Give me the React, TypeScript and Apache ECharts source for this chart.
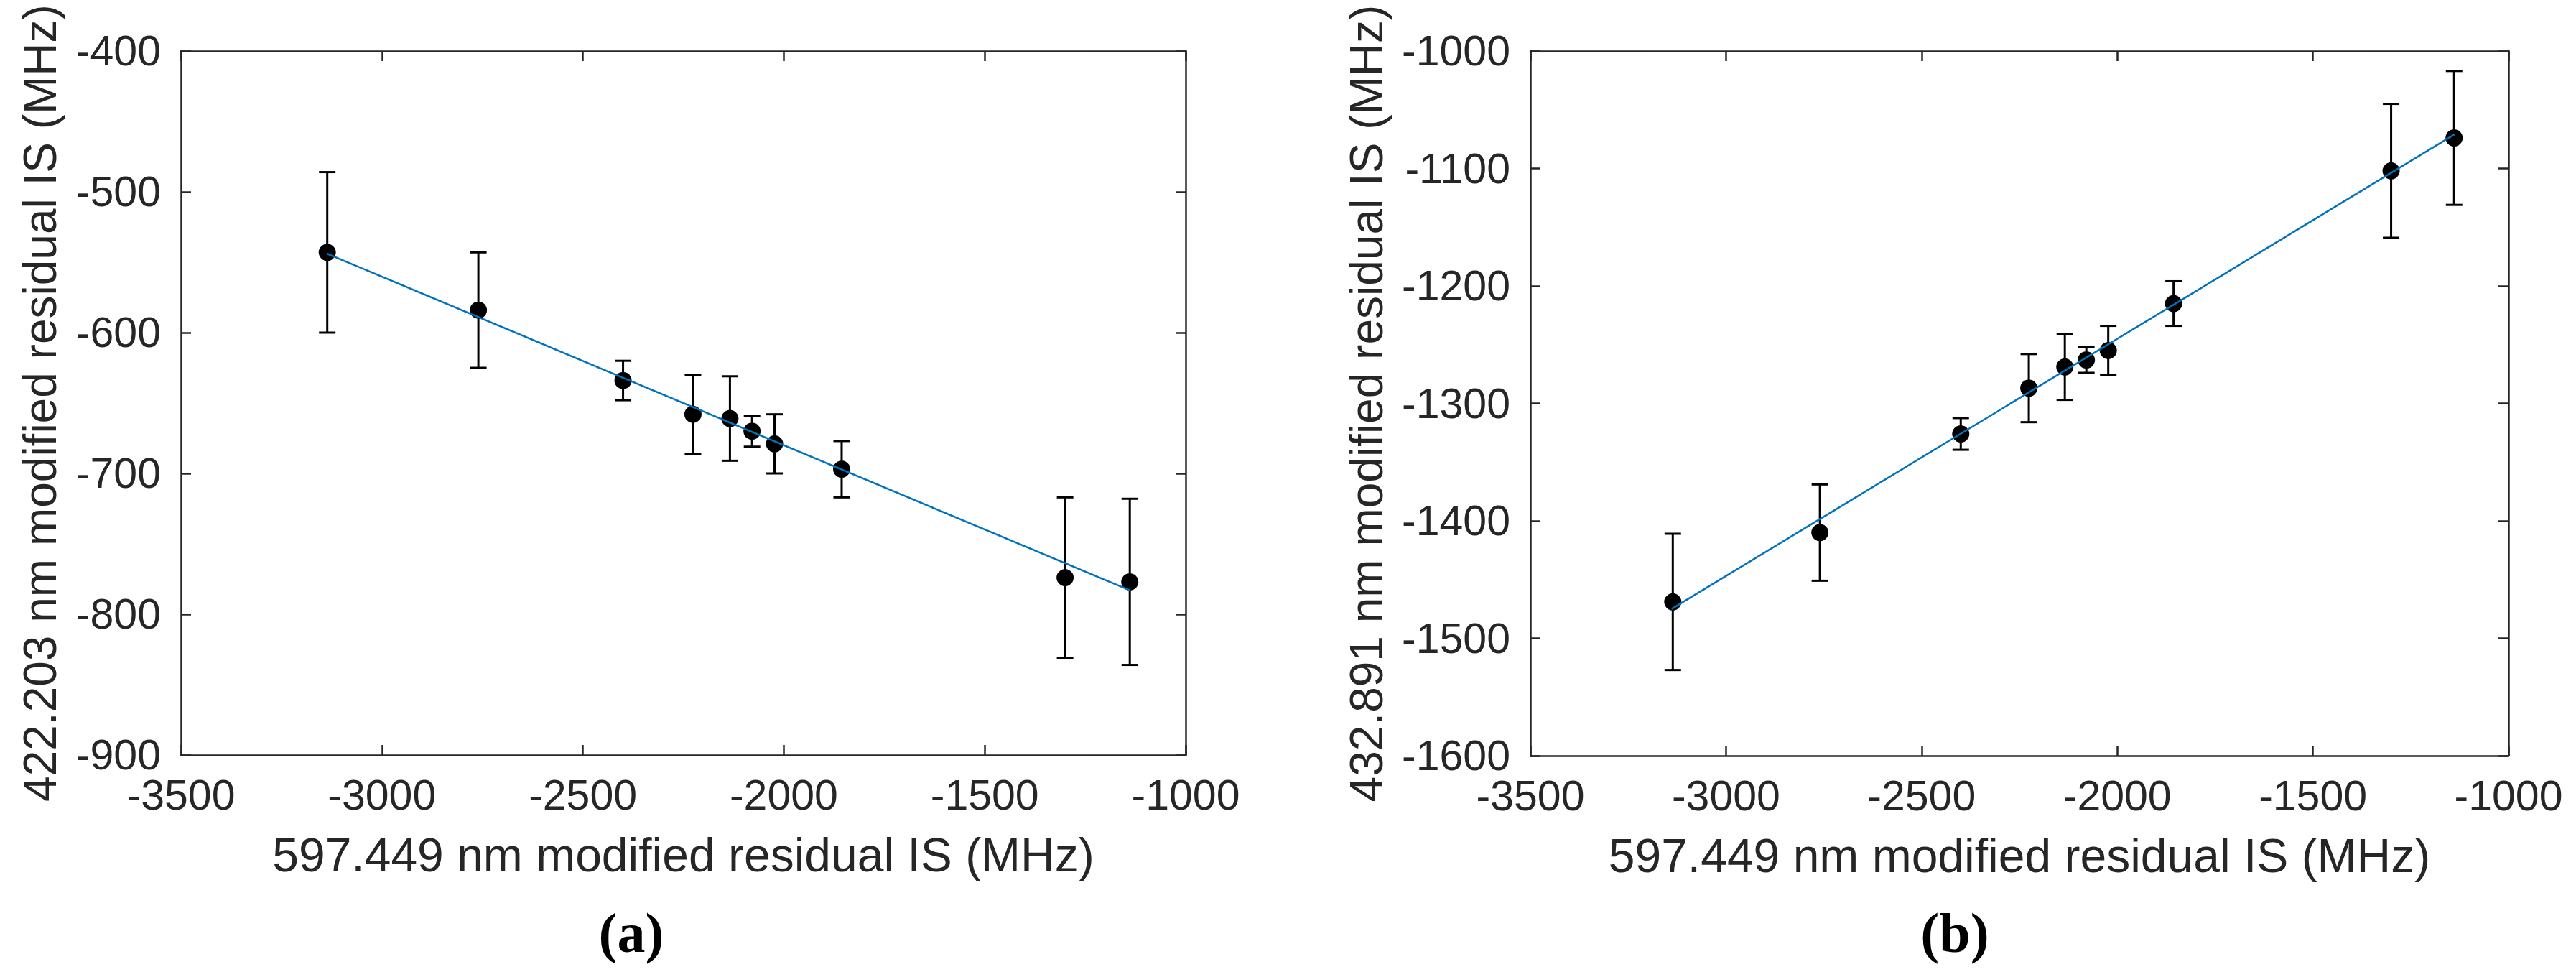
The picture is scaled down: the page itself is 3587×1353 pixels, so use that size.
import React, { useEffect, useRef } from "react";
import * as echarts from "echarts";

// Shared x values (597.449 nm modified residual IS, MHz)
const xVals = [-3136, -2760, -2400, -2226, -2134, -2079, -2023, -1856, -1300, -1139];

// Panel (a): 422.203 nm modified residual IS
const yA = [-543, -584, -634, -658, -661, -670, -679, -697, -774, -777];
const errA = [57, 41, 14, 28, 30, 11, 21, 20, 57, 59];
const fitA = [
  [-3136, -544],
  [-1139, -783],
];

// Panel (b): 432.891 nm modified residual IS
const yB = [-1469, -1410, -1326, -1287, -1269, -1263, -1255, -1215, -1102, -1074];
const errB = [58, 41, 13.5, 29, 28, 11, 21, 19, 57, 57];
const fitB = [
  [-3139, -1475],
  [-1138, -1071],
];

const xTitle = "597.449 nm modified residual IS (MHz)";
const yTitleA = "422.203 nm modified residual IS (MHz)";
const yTitleB = "432.891 nm modified residual IS (MHz)";
const panelLabels = ["(a)", "(b)"];

const AX = "#262626";
const SANS = "'Liberation Sans', Arial, sans-serif";

export default function App() {
  const ref = useRef<HTMLDivElement>(null);

  useEffect(() => {
    if (!ref.current) return;
    const chart = echarts.init(ref.current, undefined, { renderer: "svg" });

    const axisLine = { show: true, lineStyle: { color: AX, width: 2.5 } };
    const tick = { show: true, inside: true, length: 14, lineStyle: { color: AX, width: 2.5 } };
    const label = {
      color: AX,
      fontSize: 59,
      fontFamily: SANS,
      formatter: (v: number) => String(v),
    };

    const mkX = (gi: number) => [
      {
        gridIndex: gi,
        type: "value",
        min: -3500,
        max: -1000,
        interval: 500,
        position: "bottom",
        axisLine,
        axisTick: tick,
        axisLabel: { ...label, margin: 26 },
        splitLine: { show: false },
        name: xTitle,
        nameLocation: "middle",
        nameGap: 106,
        nameTextStyle: { color: AX, fontSize: 66, fontFamily: SANS },
      },
      {
        gridIndex: gi,
        type: "value",
        min: -3500,
        max: -1000,
        interval: 500,
        position: "top",
        axisLine,
        axisTick: tick,
        axisLabel: { show: false },
        splitLine: { show: false },
      },
    ];

    const mkY = (gi: number, min: number, max: number, name: string, gap: number) => [
      {
        gridIndex: gi,
        type: "value",
        min,
        max,
        interval: 100,
        position: "left",
        axisLine,
        axisTick: tick,
        axisLabel: { ...label, margin: 28 },
        splitLine: { show: false },
        name,
        nameLocation: "middle",
        nameGap: gap,
        nameTextStyle: { color: AX, fontSize: 64, fontFamily: SANS },
      },
      {
        gridIndex: gi,
        type: "value",
        min,
        max,
        interval: 100,
        position: "right",
        axisLine,
        axisTick: tick,
        axisLabel: { show: false },
        splitLine: { show: false },
      },
    ];

    const errRender = (params: any, api: any) => {
      const x = api.value(0);
      const lo = api.value(1);
      const hi = api.value(2);
      const pHi = api.coord([x, hi]);
      const pLo = api.coord([x, lo]);
      const hw = 11.5;
      const st = { stroke: "#000", lineWidth: 3 };
      return {
        type: "group",
        children: [
          { type: "line", shape: { x1: pHi[0], y1: pHi[1], x2: pLo[0], y2: pLo[1] }, style: st },
          { type: "line", shape: { x1: pHi[0] - hw, y1: pHi[1], x2: pHi[0] + hw, y2: pHi[1] }, style: st },
          { type: "line", shape: { x1: pLo[0] - hw, y1: pLo[1], x2: pLo[0] + hw, y2: pLo[1] }, style: st },
        ],
      };
    };

    const mkSeries = (ys: number[], errs: number[], fit: number[][], xi: number, yi: number) => [
      {
        type: "custom",
        xAxisIndex: xi,
        yAxisIndex: yi,
        renderItem: errRender,
        encode: { x: 0, y: [1, 2] },
        data: xVals.map((x, i) => [x, ys[i] - errs[i], ys[i] + errs[i]]),
        z: 2,
      },
      {
        type: "scatter",
        xAxisIndex: xi,
        yAxisIndex: yi,
        symbol: "circle",
        symbolSize: 24,
        itemStyle: { color: "#000", opacity: 1 },
        data: xVals.map((x, i) => [x, ys[i]]),
        z: 3,
      },
      {
        type: "line",
        xAxisIndex: xi,
        yAxisIndex: yi,
        showSymbol: false,
        symbol: "none",
        lineStyle: { color: "#0072BD", width: 2.5 },
        data: fit,
        z: 4,
      },
    ];

    chart.setOption({
      animation: false,
      backgroundColor: "#fff",
      grid: [
        { left: 252, top: 71, width: 1399, height: 980 },
        { left: 2131, top: 71, width: 1362, height: 981 },
      ],
      xAxis: [...mkX(0), ...mkX(1)],
      yAxis: [
        ...mkY(0, -900, -400, yTitleA, 164),
        ...mkY(1, -1600, -1000, yTitleB, 196),
      ],
      series: [...mkSeries(yA, errA, fitA, 0, 0), ...mkSeries(yB, errB, fitB, 2, 2)],
      graphic: [
        {
          type: "text",
          x: 879,
          y: 1298,
          style: {
            text: panelLabels[0],
            fontSize: 78,
            fontWeight: "bold",
            fontFamily: "'Liberation Serif', 'Times New Roman', serif",
            fill: "#000",
            align: "center",
            verticalAlign: "middle",
          },
        },
        {
          type: "text",
          x: 2722,
          y: 1298,
          style: {
            text: panelLabels[1],
            fontSize: 78,
            fontWeight: "bold",
            fontFamily: "'Liberation Serif', 'Times New Roman', serif",
            fill: "#000",
            align: "center",
            verticalAlign: "middle",
          },
        },
      ],
    });

    return () => chart.dispose();
  }, []);

  return (
    <div
      ref={ref}
      style={{ position: "fixed", left: 0, top: 0, width: 3587, height: 1353, background: "#fff" }}
    />
  );
}
